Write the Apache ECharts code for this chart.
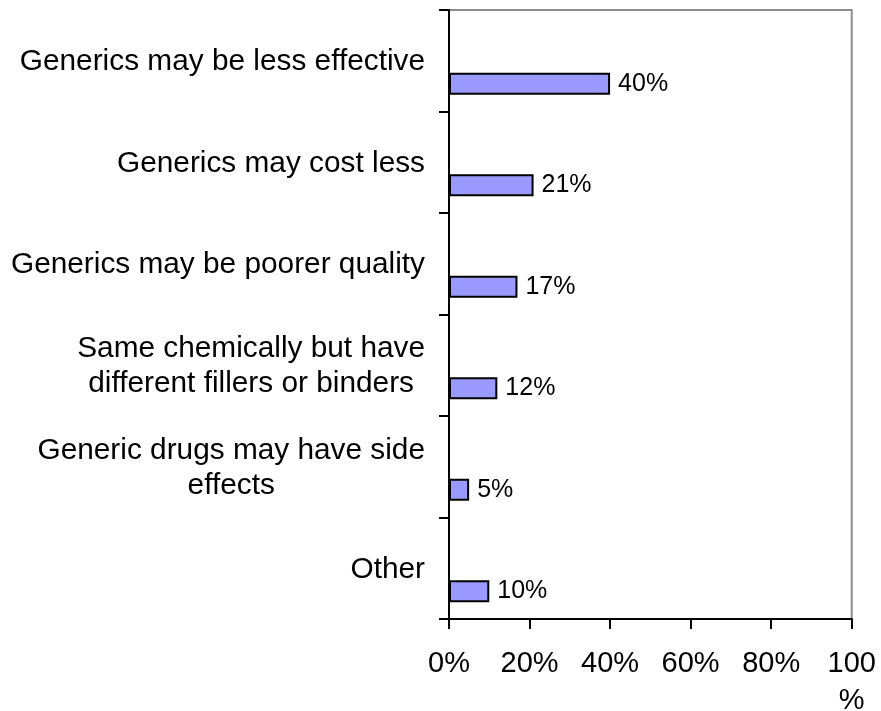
<!DOCTYPE html>
<html>
<head>
<meta charset="utf-8">
<script src="https://cdn.jsdelivr.net/npm/echarts@6/dist/echarts.min.js"></script>
<style>
  html, body { margin: 0; padding: 0; background: #ffffff; }
  #chart { width: 881px; height: 711px; }
</style>
</head>
<body>
<div id="chart"></div>
<script>
// Reasons given for preferring brand-name drugs over generics (share of respondents, %)
const categories = [
  'Generics may be less effective',
  'Generics may cost less',
  'Generics may be poorer quality',
  'Same chemically but have\ndifferent fillers or binders',
  'Generic drugs may have side\neffects',
  'Other'
];
const shares = [40, 21, 17, 12, 5, 10];
const xTicks = [0, 20, 40, 60, 80, 100];

const FONT = '"Liberation Sans", Arial, Helvetica, sans-serif';

const chart = echarts.init(document.getElementById('chart'), null, { renderer: 'canvas' });

chart.setOption({
  animation: false,
  backgroundColor: '#ffffff',
  grid: {
    left: 449,
    right: 29.3,
    top: 10,
    bottom: 92,
    outerBoundsMode: 'none',
    containLabel: false,
    show: true,
    borderColor: '#8c8c8c',
    borderWidth: 2,
    backgroundColor: 'transparent'
  },
  xAxis: {
    type: 'value',
    min: xTicks[0],
    max: xTicks[xTicks.length - 1],
    interval: xTicks[1] - xTicks[0],
    axisLine: { show: true, lineStyle: { color: '#000', width: 2 } },
    axisTick: { show: true, length: 10, lineStyle: { color: '#000', width: 2 } },
    splitLine: { show: false },
    axisLabel: {
      margin: 26,
      color: '#000',
      fontFamily: FONT,
      fontSize: 29,
      lineHeight: 37,
      formatter: v => (v === 100 ? v + '\n%' : v + '%')
    }
  },
  yAxis: {
    type: 'category',
    inverse: true,
    data: categories,
    axisLine: { show: true, lineStyle: { color: '#000', width: 2 } },
    axisTick: { show: true, length: 10, lineStyle: { color: '#000', width: 2 } },
    splitLine: { show: false },
    axisLabel: {
      margin: 24,
      color: '#000',
      padding: [3, 0, 0, 0],
      formatter: v => v.split('\n').map(line => '{c|' + line + '}').join('\n'),
      rich: {
        c: {
          align: 'center',
          color: '#000',
          fontFamily: FONT,
          fontSize: 29.8,
          lineHeight: 35
        }
      }
    }
  },
  series: [
    {
      // empty companion series that pushes the visible bars to the lower part of each row
      name: 'spacer',
      type: 'bar',
      barWidth: 22,
      barGap: '109%',
      silent: true,
      data: shares.map(() => '-')
    },
    {
      name: 'Share',
      type: 'bar',
      barWidth: 22,
      barGap: '109%',
      data: shares,
      itemStyle: { color: '#9999ff', borderColor: '#000', borderWidth: 2 },
      label: {
        show: true,
        position: 'right',
        distance: 8,
        color: '#000',
        fontFamily: FONT,
        fontSize: 25,
        formatter: p => p.value + '%'
      }
    }
  ]
});
</script>
</body>
</html>
